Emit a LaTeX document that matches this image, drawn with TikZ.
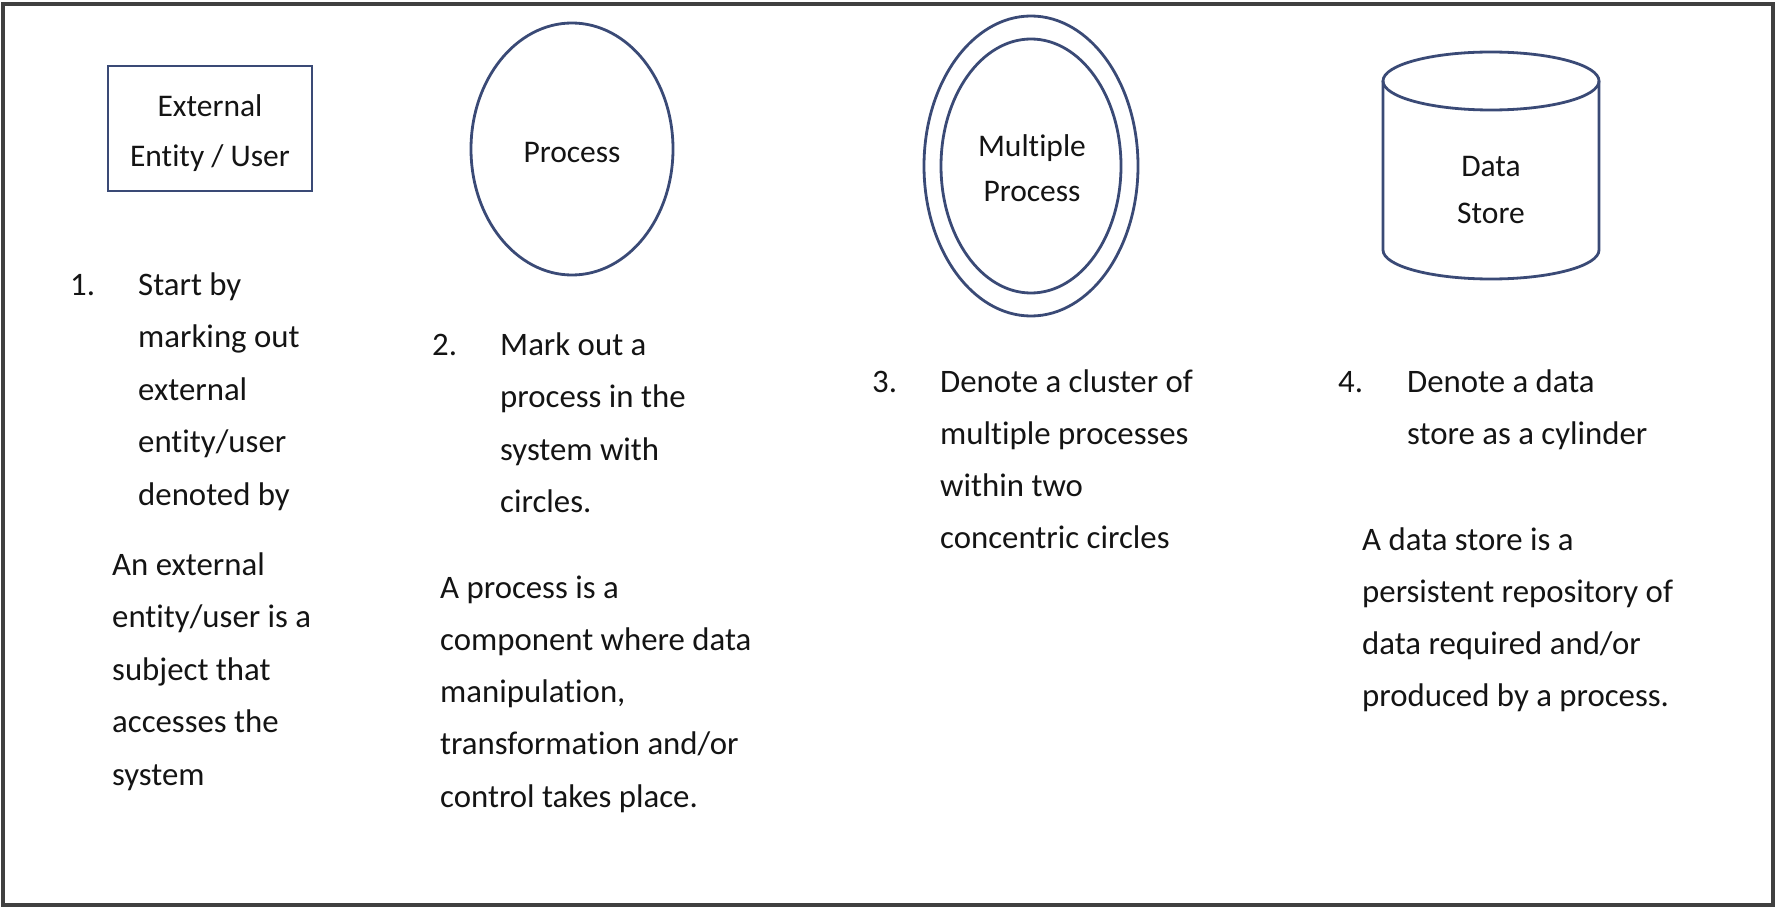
\documentclass[tikz,border=0pt]{standalone}
\usepackage{fontspec}
\setmainfont{Carlito}[Ligatures={TeX,NoCommon}]
\usetikzlibrary{shapes.geometric}
\definecolor{shapeblue}{RGB}{58,74,118}
\definecolor{framegray}{RGB}{64,64,64}
\definecolor{inkc}{RGB}{20,20,20}
\begin{document}
\begin{tikzpicture}[x=1pt,y=-1pt,
  body/.style={font=\fontsize{32.8}{52.5}\selectfont, inner sep=0pt, anchor=base west, text=inkc},
  lbl/.style={font=\fontsize{31.5}{40}\selectfont, inner sep=0pt, anchor=base, text=inkc},
  outline/.style={draw=shapeblue, line width=2.8pt},
  framebox/.style={draw=framegray, line width=4pt},
]
\useasboundingbox (0,0) rectangle (1778,912);
\draw[framebox] (2.5,4.5) rectangle (1773,905);

% shapes
\node[outline, rectangle, minimum width=204pt, minimum height=125pt, inner sep=0pt] (ent) at (210,128.5) {};
\node[lbl] (entA) at (210,117) {External};
\node[lbl] (entB) at (210,167) {Entity / User};

\node[outline, ellipse, minimum width=202pt, minimum height=252pt, inner sep=0pt] (proc) at (572,149) {};
\node[lbl] (procA) at (572,163) {Process};

\node[outline, ellipse, minimum width=214pt, minimum height=300pt, inner sep=0pt] (mpo) at (1031,166) {};
\node[outline, ellipse, minimum width=180pt, minimum height=254pt, inner sep=0pt] (mpi) at (1031,166) {};
\node[lbl] (mpA) at (1032,157) {Multiple};
\node[lbl] (mpB) at (1032,202) {Process};

\coordinate (dsT) at (1491,81);
\coordinate (dsTL) at (1383,81);
\coordinate (dsBL) at (1383,250);
\coordinate (dsTR) at (1599,81);
\draw[outline] (dsT) ellipse [x radius=108pt, y radius=29pt];
\draw[outline] (dsTL) -- (dsBL) arc[start angle=180, end angle=360, x radius=108pt, y radius=29pt] -- (dsTR);
\node[lbl] (dsA) at (1491,177) {Data};
\node[lbl] (dsB) at (1491,224) {Store};

% column 1
\node[body] (n1) at (70,295) {1.};
\foreach \t [count=\i from 0] in {Start by, marking out, external, entity/user, denoted by}
  \node[body] (c1a\i) at (138,{295+52.5*\i}) {\t};
\foreach \t [count=\i from 0] in {An external, entity/user is a, subject that, accesses the, system}
  \node[body] (c1b\i) at (112,{575+52.5*\i}) {\t};

% column 2
\node[body] (n2) at (432,355) {2.};
\foreach \t [count=\i from 0] in {Mark out a, process in the, system with, circles.}
  \node[body] (c2a\i) at (500,{355+52.5*\i}) {\t};
\foreach \t [count=\i from 0] in {A process is a, component where data, {manipulation,}, transformation and/or, control takes place.}
  \node[body] (c2b\i) at (440,{598+52.3*\i}) {\t};

% column 3
\node[body] (n3) at (872,392) {3.};
\foreach \t [count=\i from 0] in {Denote a cluster of, multiple processes, within two, concentric circles}
  \node[body] (c3a\i) at (940,{392+52*\i}) {\t};

% column 4
\node[body] (n4) at (1338,392) {4.};
\foreach \t [count=\i from 0] in {Denote a data, store as a cylinder}
  \node[body] (c4a\i) at (1407,{392+52*\i}) {\t};
\foreach \t [count=\i from 0] in {A data store is a, persistent repository of, data required and/or, produced by a process.}
  \node[body] (c4b\i) at (1362,{550+52.3*\i}) {\t};
\end{tikzpicture}
\end{document}
